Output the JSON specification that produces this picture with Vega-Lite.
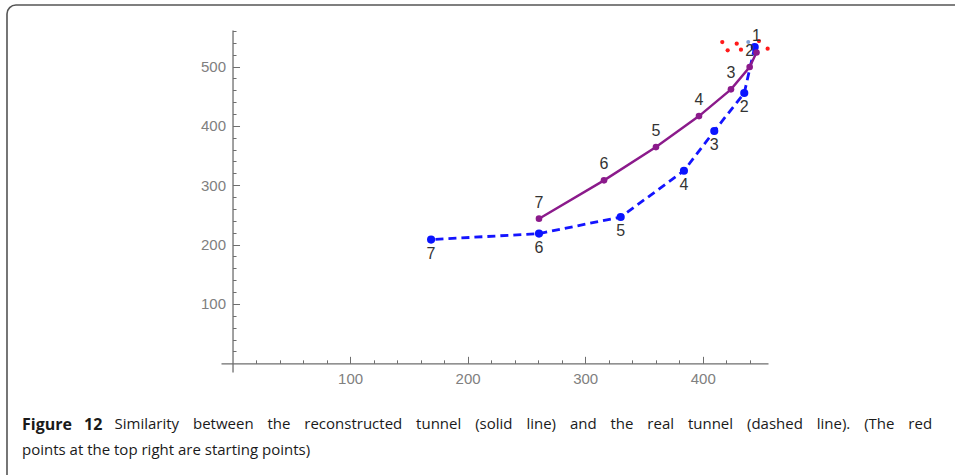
{
  "$schema": "https://vega.github.io/schema/vega-lite/v6.json",
  "width": 547,
  "height": 342,
  "autosize": {"type": "none"},
  "padding": {"left": 221, "top": 30, "right": 200, "bottom": 110},
  "background": "white",
  "view": {"stroke": null},
  "config": {
    "axis": {
      "domain": true,
      "domainColor": "#6e6e6e",
      "domainWidth": 1.3,
      "grid": false,
      "tickColor": "#6e6e6e",
      "tickWidth": 1,
      "labelOverlap": false,
      "labelFlush": false,
      "labelFont": "Liberation Sans",
      "labelFontSize": 15,
      "labelColor": "#808080"
    }
  },
  "title": {
    "text": "Figure\u2002 12",
    "subtitle": ["\u200B\u2003\u2003\u2003\u2003\u2003\u2003\u2009Similarity\u2002\u2009 between\u2002\u2009 the\u2002\u2009 reconstructed\u2002\u2009 tunnel\u2002\u2009 (solid\u2002\u2009 line)\u2002\u2009 and\u2002\u2009 the\u2002\u2009 real\u2002\u2009 tunnel\u2002\u2009 (dashed\u2002\u2009 line).\u2002\u2009 (The\u2002\u2009 red", "points at the top right are starting points)"],
    "orient": "bottom",
    "anchor": "start",
    "frame": "group",
    "offset": -69,
    "dx": -199,
    "font": "Open Sans",
    "fontSize": 16,
    "fontWeight": "bold",
    "color": "#1a1a1a",
    "subtitleFont": "Open Sans",
    "subtitleFontSize": 15,
    "subtitleFontWeight": "normal",
    "subtitleColor": "#1a1a1a",
    "subtitlePadding": -16,
    "subtitleLineHeight": 26
  },
  "data": {
    "values": [
      {"series": "start", "step": 0, "x": 416.6, "y": 541.2, "label": ""},
      {"series": "start", "step": 0, "x": 421.2, "y": 527.2, "label": ""},
      {"series": "start", "step": 0, "x": 428.9, "y": 538.5, "label": ""},
      {"series": "start", "step": 0, "x": 432.5, "y": 528.4, "label": ""},
      {"series": "start", "step": 0, "x": 447.8, "y": 542.9, "label": ""},
      {"series": "start", "step": 0, "x": 455.2, "y": 530.1, "label": ""},
      {"series": "start2", "step": 0, "x": 438.7, "y": 541.2, "label": ""},
      {"series": "real", "step": 1, "x": 444.2, "y": 532.8, "label": ""},
      {"series": "real", "step": 2, "x": 435.3, "y": 455.3, "label": "2"},
      {"series": "real", "step": 3, "x": 409.8, "y": 391.3, "label": "3"},
      {"series": "real", "step": 4, "x": 384.0, "y": 324.4, "label": "4"},
      {"series": "real", "step": 5, "x": 330.2, "y": 246.4, "label": "5"},
      {"series": "real", "step": 6, "x": 260.7, "y": 218.5, "label": "6"},
      {"series": "real", "step": 7, "x": 168.9, "y": 208.4, "label": "7"},
      {"series": "recon", "step": 1, "x": 445.7, "y": 523.6, "label": "1"},
      {"series": "recon", "step": 2, "x": 439.9, "y": 499.1, "label": "2"},
      {"series": "recon", "step": 3, "x": 424.0, "y": 461.5, "label": "3"},
      {"series": "recon", "step": 4, "x": 396.8, "y": 416.5, "label": "4"},
      {"series": "recon", "step": 5, "x": 360.2, "y": 364.3, "label": "5"},
      {"series": "recon", "step": 6, "x": 316.0, "y": 308.2, "label": "6"},
      {"series": "recon", "step": 7, "x": 260.7, "y": 243.7, "label": "7"}
    ]
  },
  "layer": [
    {
      "transform": [{"filter": "datum.series === 'real'"}],
      "mark": {"type": "line", "color": "#1414ff", "strokeWidth": 2.8, "strokeDash": [8, 5]},
      "encoding": {
        "x": {"field": "x", "type": "quantitative", "scale": {"domain": [-9.8, 455.5], "nice": false, "zero": false},
          "axis": {"orient": "bottom", "offset": -8.67, "title": null, "values": [20, 40, 60, 80, 100, 120, 140, 160, 180, 200, 220, 240, 260, 280, 300, 320, 340, 360, 380, 400, 420, 440], "labelExpr": "datum.value % 100 === 0 ? datum.label : ''", "tickSize": {"condition": {"test": "datum.value % 100 === 0", "value": -7}, "value": -3.5}, "labelPadding": 15, "labelOverlap": false}},
        "y": {"field": "y", "type": "quantitative", "scale": {"domain": [-14.6, 561.5], "nice": false, "zero": false},
          "axis": {"orient": "left", "offset": -11.52, "title": null, "values": [20, 40, 60, 80, 100, 120, 140, 160, 180, 200, 220, 240, 260, 280, 300, 320, 340, 360, 380, 400, 420, 440, 460, 480, 500, 520, 540, 560], "labelExpr": "datum.value % 100 === 0 ? datum.label : ''", "tickSize": {"condition": {"test": "datum.value % 100 === 0", "value": -7}, "value": -3.5}, "labelPadding": 14, "labelOverlap": false}},
        "order": {"field": "step", "type": "quantitative"}
      }
    },
    {
      "transform": [{"filter": "datum.series === 'recon'"}],
      "mark": {"type": "line", "color": "#8b1a8b", "strokeWidth": 2.4},
      "encoding": {
        "x": {"field": "x", "type": "quantitative",
          "axis": {"orient": "bottom", "offset": -8.67, "title": null, "values": [20, 40, 60, 80, 100, 120, 140, 160, 180, 200, 220, 240, 260, 280, 300, 320, 340, 360, 380, 400, 420, 440], "labelExpr": "datum.value % 100 === 0 ? datum.label : ''", "tickSize": {"condition": {"test": "datum.value % 100 === 0", "value": -7}, "value": -3.5}, "labelPadding": 15, "labelOverlap": false}},
        "y": {"field": "y", "type": "quantitative",
          "axis": {"orient": "left", "offset": -11.52, "title": null, "values": [20, 40, 60, 80, 100, 120, 140, 160, 180, 200, 220, 240, 260, 280, 300, 320, 340, 360, 380, 400, 420, 440, 460, 480, 500, 520, 540, 560], "labelExpr": "datum.value % 100 === 0 ? datum.label : ''", "tickSize": {"condition": {"test": "datum.value % 100 === 0", "value": -7}, "value": -3.5}, "labelPadding": 14, "labelOverlap": false}},
        "order": {"field": "step", "type": "quantitative"}
      }
    },
    {
      "transform": [{"filter": "datum.series === 'start'"}],
      "mark": {"type": "circle", "color": "#ff1a1a", "opacity": 1, "size": 18},
      "encoding": {
        "x": {"field": "x", "type": "quantitative",
          "axis": {"orient": "bottom", "offset": -8.67, "title": null, "values": [20, 40, 60, 80, 100, 120, 140, 160, 180, 200, 220, 240, 260, 280, 300, 320, 340, 360, 380, 400, 420, 440], "labelExpr": "datum.value % 100 === 0 ? datum.label : ''", "tickSize": {"condition": {"test": "datum.value % 100 === 0", "value": -7}, "value": -3.5}, "labelPadding": 15, "labelOverlap": false}},
        "y": {"field": "y", "type": "quantitative",
          "axis": {"orient": "left", "offset": -11.52, "title": null, "values": [20, 40, 60, 80, 100, 120, 140, 160, 180, 200, 220, 240, 260, 280, 300, 320, 340, 360, 380, 400, 420, 440, 460, 480, 500, 520, 540, 560], "labelExpr": "datum.value % 100 === 0 ? datum.label : ''", "tickSize": {"condition": {"test": "datum.value % 100 === 0", "value": -7}, "value": -3.5}, "labelPadding": 14, "labelOverlap": false}}
      }
    },
    {
      "transform": [{"filter": "datum.series === 'start2'"}],
      "mark": {"type": "circle", "color": "#7f9fd6", "opacity": 1, "size": 16},
      "encoding": {
        "x": {"field": "x", "type": "quantitative",
          "axis": {"orient": "bottom", "offset": -8.67, "title": null, "values": [20, 40, 60, 80, 100, 120, 140, 160, 180, 200, 220, 240, 260, 280, 300, 320, 340, 360, 380, 400, 420, 440], "labelExpr": "datum.value % 100 === 0 ? datum.label : ''", "tickSize": {"condition": {"test": "datum.value % 100 === 0", "value": -7}, "value": -3.5}, "labelPadding": 15, "labelOverlap": false}},
        "y": {"field": "y", "type": "quantitative",
          "axis": {"orient": "left", "offset": -11.52, "title": null, "values": [20, 40, 60, 80, 100, 120, 140, 160, 180, 200, 220, 240, 260, 280, 300, 320, 340, 360, 380, 400, 420, 440, 460, 480, 500, 520, 540, 560], "labelExpr": "datum.value % 100 === 0 ? datum.label : ''", "tickSize": {"condition": {"test": "datum.value % 100 === 0", "value": -7}, "value": -3.5}, "labelPadding": 14, "labelOverlap": false}}
      }
    },
    {
      "transform": [{"filter": "datum.series === 'real'"}],
      "mark": {"type": "circle", "color": "#0a14ff", "opacity": 1, "size": 66},
      "encoding": {
        "x": {"field": "x", "type": "quantitative",
          "axis": {"orient": "bottom", "offset": -8.67, "title": null, "values": [20, 40, 60, 80, 100, 120, 140, 160, 180, 200, 220, 240, 260, 280, 300, 320, 340, 360, 380, 400, 420, 440], "labelExpr": "datum.value % 100 === 0 ? datum.label : ''", "tickSize": {"condition": {"test": "datum.value % 100 === 0", "value": -7}, "value": -3.5}, "labelPadding": 15, "labelOverlap": false}},
        "y": {"field": "y", "type": "quantitative",
          "axis": {"orient": "left", "offset": -11.52, "title": null, "values": [20, 40, 60, 80, 100, 120, 140, 160, 180, 200, 220, 240, 260, 280, 300, 320, 340, 360, 380, 400, 420, 440, 460, 480, 500, 520, 540, 560], "labelExpr": "datum.value % 100 === 0 ? datum.label : ''", "tickSize": {"condition": {"test": "datum.value % 100 === 0", "value": -7}, "value": -3.5}, "labelPadding": 14, "labelOverlap": false}}
      }
    },
    {
      "transform": [{"filter": "datum.series === 'recon'"}],
      "mark": {"type": "circle", "color": "#8b1a8b", "opacity": 1, "size": 44},
      "encoding": {
        "x": {"field": "x", "type": "quantitative",
          "axis": {"orient": "bottom", "offset": -8.67, "title": null, "values": [20, 40, 60, 80, 100, 120, 140, 160, 180, 200, 220, 240, 260, 280, 300, 320, 340, 360, 380, 400, 420, 440], "labelExpr": "datum.value % 100 === 0 ? datum.label : ''", "tickSize": {"condition": {"test": "datum.value % 100 === 0", "value": -7}, "value": -3.5}, "labelPadding": 15, "labelOverlap": false}},
        "y": {"field": "y", "type": "quantitative",
          "axis": {"orient": "left", "offset": -11.52, "title": null, "values": [20, 40, 60, 80, 100, 120, 140, 160, 180, 200, 220, 240, 260, 280, 300, 320, 340, 360, 380, 400, 420, 440, 460, 480, 500, 520, 540, 560], "labelExpr": "datum.value % 100 === 0 ? datum.label : ''", "tickSize": {"condition": {"test": "datum.value % 100 === 0", "value": -7}, "value": -3.5}, "labelPadding": 14, "labelOverlap": false}}
      }
    },
    {
      "transform": [{"filter": "datum.series === 'recon'"}],
      "mark": {"type": "text", "dy": -16, "font": "Liberation Sans", "fontSize": 16, "color": "#333333"},
      "encoding": {
        "x": {"field": "x", "type": "quantitative",
          "axis": {"orient": "bottom", "offset": -8.67, "title": null, "values": [20, 40, 60, 80, 100, 120, 140, 160, 180, 200, 220, 240, 260, 280, 300, 320, 340, 360, 380, 400, 420, 440], "labelExpr": "datum.value % 100 === 0 ? datum.label : ''", "tickSize": {"condition": {"test": "datum.value % 100 === 0", "value": -7}, "value": -3.5}, "labelPadding": 15, "labelOverlap": false}},
        "y": {"field": "y", "type": "quantitative",
          "axis": {"orient": "left", "offset": -11.52, "title": null, "values": [20, 40, 60, 80, 100, 120, 140, 160, 180, 200, 220, 240, 260, 280, 300, 320, 340, 360, 380, 400, 420, 440, 460, 480, 500, 520, 540, 560], "labelExpr": "datum.value % 100 === 0 ? datum.label : ''", "tickSize": {"condition": {"test": "datum.value % 100 === 0", "value": -7}, "value": -3.5}, "labelPadding": 14, "labelOverlap": false}},
        "text": {"field": "label", "type": "nominal"}
      }
    },
    {
      "transform": [{"filter": "datum.series === 'real'"}],
      "mark": {"type": "text", "dy": 14, "font": "Liberation Sans", "fontSize": 16, "color": "#333333"},
      "encoding": {
        "x": {"field": "x", "type": "quantitative",
          "axis": {"orient": "bottom", "offset": -8.67, "title": null, "values": [20, 40, 60, 80, 100, 120, 140, 160, 180, 200, 220, 240, 260, 280, 300, 320, 340, 360, 380, 400, 420, 440], "labelExpr": "datum.value % 100 === 0 ? datum.label : ''", "tickSize": {"condition": {"test": "datum.value % 100 === 0", "value": -7}, "value": -3.5}, "labelPadding": 15, "labelOverlap": false}},
        "y": {"field": "y", "type": "quantitative",
          "axis": {"orient": "left", "offset": -11.52, "title": null, "values": [20, 40, 60, 80, 100, 120, 140, 160, 180, 200, 220, 240, 260, 280, 300, 320, 340, 360, 380, 400, 420, 440, 460, 480, 500, 520, 540, 560], "labelExpr": "datum.value % 100 === 0 ? datum.label : ''", "tickSize": {"condition": {"test": "datum.value % 100 === 0", "value": -7}, "value": -3.5}, "labelPadding": 14, "labelOverlap": false}},
        "text": {"field": "label", "type": "nominal"}
      }
    },
    {
      "data": {"values": [{}]},
      "mark": {"type": "rect", "fillOpacity": 0, "stroke": "#555555", "strokeWidth": 1.6, "cornerRadius": 9},
      "encoding": {
        "x": {"datum": -191.84, "type": "quantitative",
          "axis": {"orient": "bottom", "offset": -8.67, "title": null, "values": [20, 40, 60, 80, 100, 120, 140, 160, 180, 200, 220, 240, 260, 280, 300, 320, 340, 360, 380, 400, 420, 440], "labelExpr": "datum.value % 100 === 0 ? datum.label : ''", "tickSize": {"condition": {"test": "datum.value % 100 === 0", "value": -7}, "value": -3.5}, "labelPadding": 15, "labelOverlap": false}},
        "x2": {"datum": 624.78},
        "y": {"datum": 603.6, "type": "quantitative",
          "axis": {"orient": "left", "offset": -11.52, "title": null, "values": [20, 40, 60, 80, 100, 120, 140, 160, 180, 200, 220, 240, 260, 280, 300, 320, 340, 360, 380, 400, 420, 440, 460, 480, 500, 520, 540, 560], "labelExpr": "datum.value % 100 === 0 ? datum.label : ''", "tickSize": {"condition": {"test": "datum.value % 100 === 0", "value": -7}, "value": -3.5}, "labelPadding": 14, "labelOverlap": false}},
        "y2": {"datum": -204.9}
      }
    }
  ]
}
